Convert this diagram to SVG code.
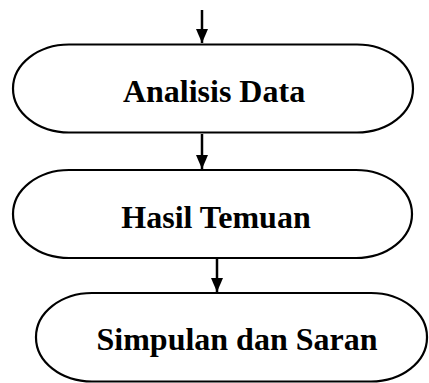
<svg xmlns="http://www.w3.org/2000/svg" width="429" height="383" viewBox="0 0 429 383">
<style>
.term{fill:#fff;stroke:#000;stroke-width:2.2}
.lbl{font-family:"Liberation Serif","Times New Roman",serif;font-weight:bold;font-size:32px;fill:#000;text-anchor:middle}
.conn{stroke:#000;stroke-width:2.5;fill:none}
</style>
<defs>
<marker id="ah" viewBox="0 0 14 12" refX="14" refY="6" markerWidth="14" markerHeight="12" markerUnits="userSpaceOnUse" orient="auto">
<path d="M0,0 L14,6 L0,12 Z" fill="#000"/>
</marker>
</defs>
<g id="connectors">
<line class="conn" x1="202" y1="10" x2="202" y2="43" marker-end="url(#ah)"/>
<line class="conn" x1="202" y1="134" x2="202" y2="169" marker-end="url(#ah)"/>
<line class="conn" x1="217" y1="259" x2="217" y2="292" marker-end="url(#ah)"/>
</g>
<g id="analisis-data">
<rect class="term" x="13" y="44.5" width="400" height="88" rx="56" ry="44"/>
<text class="lbl" x="214" y="102">Analisis Data</text>
</g>
<g id="hasil-temuan">
<rect class="term" x="13" y="170" width="399" height="88" rx="56" ry="44"/>
<text class="lbl" x="216" y="228">Hasil Temuan</text>
</g>
<g id="simpulan-dan-saran">
<rect class="term" x="36" y="293" width="391" height="88.5" rx="56" ry="44"/>
<text class="lbl" x="237" y="350">Simpulan dan Saran</text>
</g>
</svg>
